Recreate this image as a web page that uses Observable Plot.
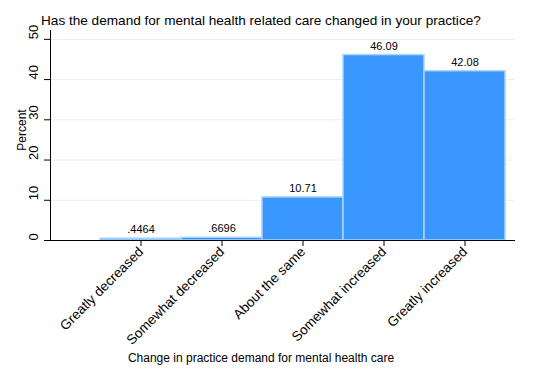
<!DOCTYPE html>
<html>
<head>
<meta charset="utf-8">
<script src="https://cdn.jsdelivr.net/npm/d3@7"></script>
<script src="https://cdn.jsdelivr.net/npm/@observablehq/plot@0.6"></script>
<style>
  html, body { margin: 0; padding: 0; background: #fff; }
  #wrap { position: relative; width: 558px; height: 379px; font-family: "Liberation Sans", Arial, sans-serif; color: #000; overflow: hidden; }
  #wrap svg { position: absolute; left: 0; top: 0; }
  .lbl { position: absolute; white-space: nowrap; font-family: "Liberation Sans", Arial, sans-serif; }
</style>
</head>
<body>
<div id="wrap">
  <div class="lbl" id="title" style="left:41px; top:13px; font-size:13.6px;">Has the demand for mental health related care changed in your practice?</div>
  <div class="lbl" id="ylab" style="left:22px; top:130px; font-size:12px; transform: translate(-50%,-50%) rotate(-90deg);">Percent</div>
  <div class="lbl" id="xlab" style="left:261px; top:358px; font-size:12px; transform: translate(-50%,-50%);">Change in practice demand for mental health care</div>
</div>
<script>
const categories = ["Greatly decreased", "Somewhat decreased", "About the same", "Somewhat increased", "Greatly increased"];
const percents = [0.4464, 0.6696, 10.71, 46.09, 42.08];
const valueLabels = [".4464", ".6696", "10.71", "46.09", "42.08"];
const yTicks = [0, 10, 20, 30, 40, 50];

const data = categories.map((c, i) => ({cat: c, pct: percents[i], label: valueLabels[i]}));

const chart = Plot.plot({
  width: 558,
  height: 379,
  marginLeft: 50,
  marginRight: 44,
  marginTop: 30,
  marginBottom: 139,
  style: {fontFamily: "'Liberation Sans', Arial, sans-serif", background: "transparent", color: "#000"},
  x: {type: "band", domain: categories, range: [100, 505], padding: 0, label: null},
  y: {domain: [0, 52.2], range: [240, 30], label: null},
  marks: [
    Plot.gridY(yTicks.slice(1), {stroke: "#e8eef0", strokeOpacity: 1}),
    Plot.barY(data, {x: "cat", y: "pct", fill: "#3896fd", stroke: "#a9d4fb", strokeWidth: 1.5, inset: 0}),
    Plot.text(data, {x: "cat", y: "pct", text: "label", dy: -9, fontSize: 11, fill: "#000"}),
    Plot.frame({anchor: "left", stroke: "#000"}),
    Plot.frame({anchor: "bottom", stroke: "#000"}),
    Plot.axisY({ticks: yTicks, tickSize: 6, label: null, stroke: "#000", text: null}),
    Plot.text(yTicks, {y: d => d, text: d => String(d), frameAnchor: "left", dx: -17, rotate: -90, fontSize: 13, fill: "#000"}),
    Plot.axisX({tickRotate: -45, fontSize: 13.6, tickSize: 6, tickPadding: 3, label: null, stroke: "#000"})
  ]
});
document.getElementById("wrap").prepend(chart);
</script>
</body>
</html>
